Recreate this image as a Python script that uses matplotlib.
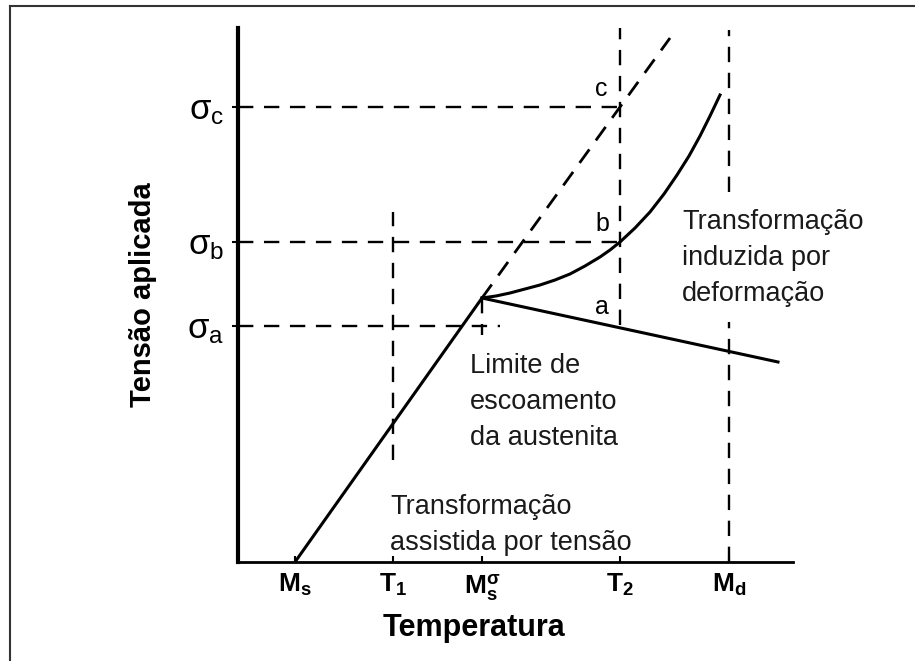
import matplotlib
matplotlib.use("Agg")
import matplotlib.pyplot as plt
from matplotlib.lines import Line2D

plt.rcParams['font.family'] = ['Liberation Sans', 'DejaVu Sans']
plt.rcParams['mathtext.fontset'] = 'custom'
plt.rcParams['mathtext.rm'] = 'Liberation Sans'
plt.rcParams['mathtext.it'] = 'Liberation Sans:italic'
plt.rcParams['mathtext.bf'] = 'Liberation Sans:bold'

# ---- data (schematic units) ----
x_tick_pos = [57, 155, 244, 382, 491]
x_tick_labels = [r'$\mathbf{M_s}$', r'$\mathbf{T_1}$', r'$\mathbf{M_s^{\sigma}}$',
                 r'$\mathbf{T_2}$', r'$\mathbf{M_d}$']
y_tick_pos = [236, 320, 455]
y_tick_labels = [r'$\mathrm{\sigma_a}$', r'$\mathrm{\sigma_b}$', r'$\mathrm{\sigma_c}$']

# stress-assisted line (Ms -> Ms^sigma)
assist_x = [57, 244]
assist_y = [0, 264]
# dashed extrapolation
extrap_x = [244, 382, 432]
extrap_y = [264, 455, 524]
# strain-induced curve
curve_x = [244, 258, 272, 287, 302, 317, 332, 347, 362, 372, 382, 397, 412, 426,
           439, 451, 462, 472, 482]
curve_y = [264, 266, 269, 273, 277, 282, 288, 296, 305, 312, 320, 334, 350, 368,
           387, 406, 426, 446, 467]
# yield of austenite
yield_x = [244, 540]
yield_y = [264, 200]

fig = plt.figure(figsize=(9.15, 6.61), dpi=100)
ax = fig.add_axes([238/915, 1-562/661, 555/915, (562-28)/661])
ax.set_xlim(0, 555)
ax.set_ylim(0, 534)

ax.plot(assist_x, assist_y, color='black', lw=2.2, solid_capstyle='round')
ax.plot(curve_x, curve_y, color='black', lw=2.2)
ax.plot(yield_x, yield_y, color='black', lw=2.2)
dash = dict(color='black', lw=1.7, dashes=(6.5, 4.5))
ax.plot(extrap_x, extrap_y, color='black', lw=2.0, dashes=(6, 4))

# guide lines
ax.plot([0, x_tick_pos[3]], [y_tick_pos[2]] * 2, **dash)
ax.plot([0, x_tick_pos[3]], [y_tick_pos[1]] * 2, **dash)
ax.plot([0, 262], [y_tick_pos[0]] * 2, **dash)
ax.plot([x_tick_pos[1]] * 2, [102, 350], **dash)
ax.plot([x_tick_pos[2]] * 2, [264, 227], **dash)
ax.plot([x_tick_pos[3]] * 2, [237, 537], **dash)
ax.plot([x_tick_pos[4]] * 2, [370, 532], **dash)
ax.plot([x_tick_pos[4]] * 2, [0, 240], **dash)

# point labels
ax.text(363, 461, 'c', fontsize=18, ha='center', va='bottom')
ax.text(364, 326, 'b', fontsize=18, ha='center', va='bottom')
ax.text(364, 243, 'a', fontsize=18, ha='center', va='bottom')

ax.set_xticks(x_tick_pos)
ax.set_xticklabels(x_tick_labels, fontsize=19)
ax.set_yticks(y_tick_pos)
ax.set_yticklabels(y_tick_labels, fontsize=25)
ax.tick_params(axis='x', direction='in', length=4, width=1.5, pad=7)
ax.tick_params(axis='y', direction='out', length=4, width=1.5, pad=6)

for s in ['top', 'right']:
    ax.spines[s].set_visible(False)
ax.spines['left'].set_linewidth(3)
ax.spines['bottom'].set_linewidth(2)

ax.set_xlabel('Temperatura', fontsize=22, fontweight='bold')
ax.xaxis.set_label_coords((474-238)/555, (562-628)/534)
ax.xaxis.label.set_va('center')
ax.set_ylabel('Tensão aplicada', fontsize=21, fontweight='bold')
ax.yaxis.set_label_coords((143-238)/555, (562-295)/534)
ax.yaxis.label.set_va('center')

tc = '#1a1a1a'
fs = 19.5
ax.text(444, 353, 'Transformação\ninduzida por\ndeformação', fontsize=fs,
        color=tc, va='top', ha='left', linespacing=1.5)
ax.text(232, 209, 'Limite de\nescoamento\nda austenita', fontsize=fs,
        color=tc, va='top', ha='left', linespacing=1.5)
ax.text(152, 68, 'Transformação\nassistida por tensão', fontsize=fs,
        color=tc, va='top', ha='left', linespacing=1.5)

# outer frame
fig.add_artist(Line2D([10/915, 1], [1-6/661, 1-6/661], transform=fig.transFigure,
                      color='#333333', lw=1.5))
fig.add_artist(Line2D([10/915, 10/915], [0, 1-6/661], transform=fig.transFigure,
                      color='#333333', lw=1.5))

fig.savefig('out.png', dpi=100)
